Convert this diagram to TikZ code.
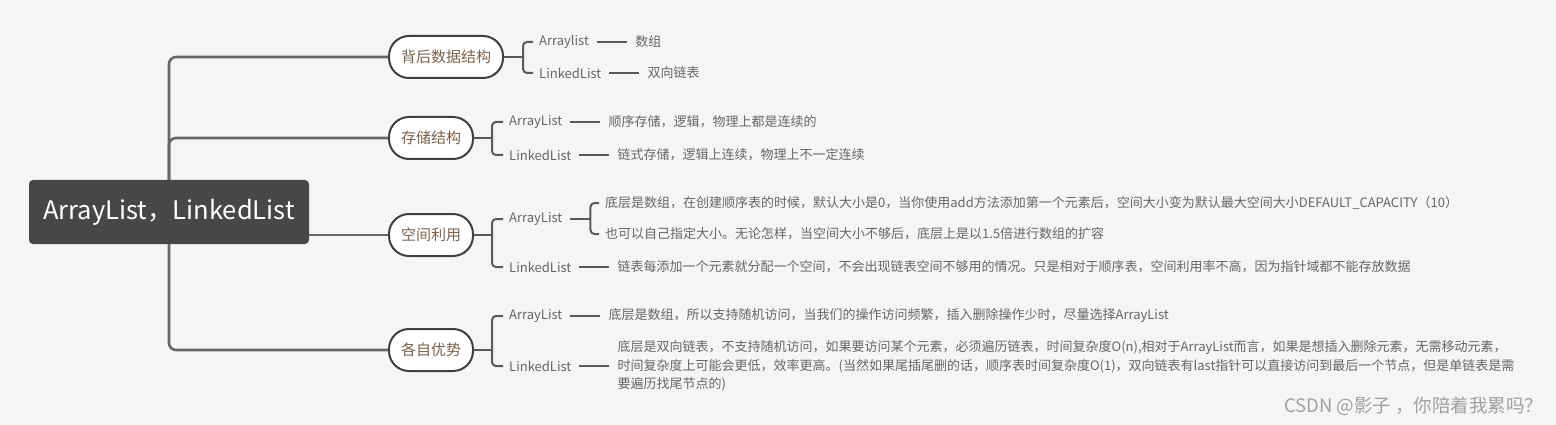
\documentclass[tikz,border=0pt]{standalone}
\usepackage{fontspec}
\setmainfont{Noto Sans CJK SC}
\usetikzlibrary{positioning}
\definecolor{bgcol}{HTML}{F5F5F5}
\definecolor{rootcol}{HTML}{474747}
\definecolor{trunkcol}{HTML}{666666}
\definecolor{bracecol}{HTML}{5A5A5A}
\definecolor{topiccol}{HTML}{7A624E}
\definecolor{textcol}{HTML}{666666}
\definecolor{markcol}{HTML}{A0A0A0}
\tikzset{
  root/.style={fill=rootcol, rounded corners=4pt, minimum width=280pt, minimum height=64pt,
    text=white, font=\fontsize{25.5}{28}\selectfont},
  topic/.style={draw=black!75, line width=2pt, fill=white, rounded corners=20pt,
    minimum height=42pt, inner xsep=12pt, text=topiccol, font=\fontsize{15}{18}\selectfont, anchor=west},
  sub/.style={inner xsep=6pt, inner ysep=2pt, text=textcol, font=\fontsize{13}{18.5}\selectfont, anchor=west},
  trunk/.style={draw=trunkcol, line width=2.6pt, rounded corners=7pt},
  brace/.style={draw=bracecol, line width=2pt, rounded corners=4pt},
  leafline/.style={draw=bracecol, line width=2pt, shorten <=2pt, shorten >=2pt},
  node distance=34pt
}
\begin{document}
\begin{tikzpicture}[x=1pt,y=-1pt]
  \fill[bgcol] (0,0) rectangle (1556,425);
  \useasboundingbox (0,0) rectangle (1556,425);

  \node[root] (root) at (169,212) {ArrayList，LinkedList};

  \node[topic] (bg) at (388,57) {背后数据结构};
  \node[topic] (cc) at (388,138) {存储结构};
  \node[topic] (kj) at (388,235) {空间利用};
  \node[topic] (ys) at (388,350) {各自优势};

  \draw[trunk] (root.north) |- (bg.west);
  \draw[trunk] (root.north) |- (cc.west);
  \draw[trunk] (root.east |- kj.west) -- (kj.west);
  \draw[trunk] (root.south) |- (ys.west);

  % 背后数据结构
  \node[sub] (bgA) at (533,42) {Arraylist};
  \node[sub] (bgL) at (533,73) {LinkedList};
  \node[sub, right=of bgA] (bgA1) {数组};
  \node[sub, right=of bgL] (bgL1) {双向链表};
  \coordinate (bgJ) at ([xshift=19pt]bg.east);
  \draw[brace] (bg.east) -- (bgJ);
  \draw[brace] (bgJ) |- (bgA.west);
  \draw[brace] (bgJ) |- (bgL.west);
  \draw[leafline] (bgA.east) -- (bgA1.west);
  \draw[leafline] (bgL.east) -- (bgL1.west);

  % 存储结构
  \node[sub] (ccA) at (503,122) {ArrayList};
  \node[sub] (ccL) at (503,155) {LinkedList};
  \node[sub, right=of ccA] (ccA1) {顺序存储，逻辑，物理上都是连续的};
  \node[sub, right=of ccL] (ccL1) {链式存储，逻辑上连续，物理上不一定连续};
  \coordinate (ccJ) at ([xshift=18pt]cc.east);
  \draw[brace] (cc.east) -- (ccJ);
  \draw[brace] (ccJ) |- (ccA.west);
  \draw[brace] (ccJ) |- (ccL.west);
  \draw[leafline] (ccA.east) -- (ccA1.west);
  \draw[leafline] (ccL.east) -- (ccL1.west);

  % 空间利用
  \node[sub] (kjA) at (503,219) {ArrayList};
  \node[sub] (kjL) at (503,267) {LinkedList};
  \node[sub] (kjA1) at (599,203) {底层是数组，在创建顺序表的时候，默认大小是0，当你使用add方法添加第一个元素后，空间大小变为默认最大空间大小DEFAULT\_CAPACITY（10）};
  \node[sub] (kjA2) at (599,234) {也可以自己指定大小。无论怎样，当空间大小不够后，底层上是以1.5倍进行数组的扩容};
  \node[sub, right=of kjL] (kjL1) {链表每添加一个元素就分配一个空间，不会出现链表空间不够用的情况。只是相对于顺序表，空间利用率不高，因为指针域都不能存放数据};
  \coordinate (kjJ) at ([xshift=18pt]kj.east);
  \draw[brace] (kj.east) -- (kjJ);
  \draw[brace] (kjJ) |- (kjA.west);
  \draw[brace] (kjJ) |- (kjL.west);
  \coordinate (kjAJ) at ([xshift=22pt]kjA.east);
  \draw[brace, shorten <=2pt] (kjA.east) -- (kjAJ);
  \draw[brace] (kjAJ) |- (kjA1.west);
  \draw[brace] (kjAJ) |- (kjA2.west);
  \draw[leafline] (kjL.east) -- (kjL1.west);

  % 各自优势
  \node[sub] (ysA) at (503,316) {ArrayList};
  \node[sub] (ysL) at (503,366) {LinkedList};
  \node[sub, right=of ysA] (ysA1) {底层是数组，所以支持随机访问，当我们的操作访问频繁，插入删除操作少时，尽量选择ArrayList};
  \node[sub, right=of ysL, align=left] (ysL1) {底层是双向链表，不支持随机访问，如果要访问某个元素，必须遍历链表，时间复杂度O(n),相对于ArrayList而言，如果是想插入删除元素，无需移动元素，\\
    时间复杂度上可能会更低，效率更高。(当然如果尾插尾删的话，顺序表时间复杂度O(1)，双向链表有last指针可以直接访问到最后一个节点，但是单链表是需\\
    要遍历找尾节点的)};
  \coordinate (ysJ) at ([xshift=18pt]ys.east);
  \draw[brace] (ys.east) -- (ysJ);
  \draw[brace] (ysJ) |- (ysA.west);
  \draw[brace] (ysJ) |- (ysL.west);
  \draw[leafline] (ysA.east) -- (ysA1.west);
  \draw[leafline] (ysL.east) -- (ysL1.west);

  \node[text=markcol, font=\fontsize{18.5}{22}\selectfont, anchor=east] (mark) at (1547,406) {CSDN @影子 ，你陪着我累吗？};
\end{tikzpicture}
\end{document}
